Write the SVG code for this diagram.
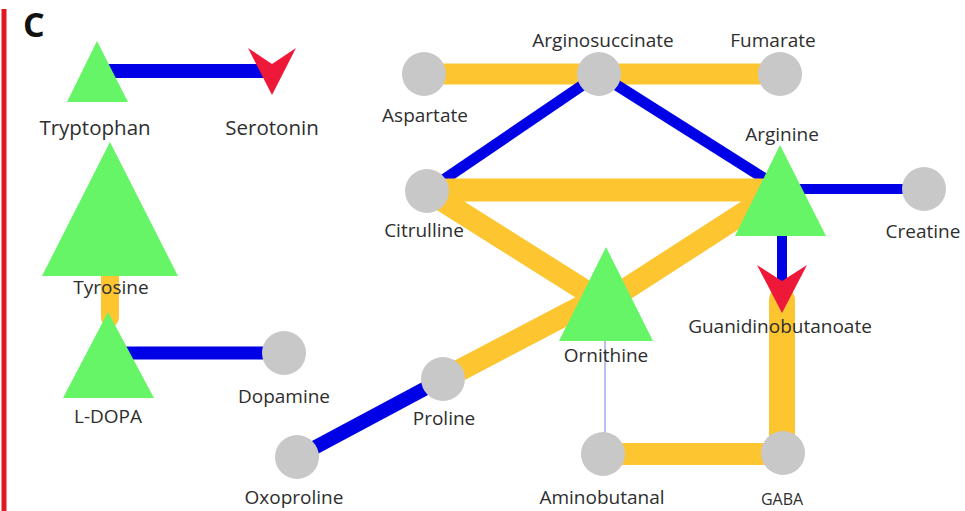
<svg xmlns="http://www.w3.org/2000/svg" width="965" height="511" viewBox="0 0 965 511">
<style>
.lbl{font-family:"Open Sans","Liberation Sans",sans-serif;font-size:19px;fill:#2e2e2e;text-anchor:middle}
.big{font-size:20.5px}
.sm{font-size:16px}
.tri{fill:#66f566}
.cir{fill:#c8c8c8}
.vee{fill:#ee1838}
.b{stroke:#0000e6;fill:none;stroke-linecap:butt}
.o{stroke:#fdc631;fill:none;stroke-linecap:round}
</style>
<rect width="965" height="511" fill="#ffffff"/>
<line x1="4" y1="9" x2="4" y2="511" stroke="#e01820" stroke-width="5"/>
<text x="23" y="37" font-family="'Open Sans','Liberation Sans',sans-serif" font-weight="bold" font-size="34" fill="#111">C</text>
<g id="connectors">
<line class="b" x1="97" y1="71" x2="272" y2="71" stroke-width="14"/>
<line class="o" x1="110" y1="270" x2="110" y2="318" stroke-width="18"/>
<line class="b" x1="108" y1="353" x2="284" y2="353" stroke-width="13"/>
<line class="o" x1="424" y1="74" x2="780" y2="74" stroke-width="21"/>
<line class="b" x1="427" y1="191" x2="599" y2="74" stroke-width="11"/>
<line class="b" x1="599" y1="74" x2="770" y2="182" stroke-width="11"/>
<line class="o" x1="427" y1="190" x2="770" y2="190" stroke-width="23"/>
<line class="o" x1="427" y1="191" x2="600" y2="300" stroke-width="22"/>
<line class="o" x1="770" y1="196" x2="612" y2="298" stroke-width="22"/>
<line class="o" x1="443" y1="379" x2="590" y2="302" stroke-width="22"/>
<line class="b" x1="297" y1="457" x2="443" y2="379" stroke-width="14"/>
<line class="b" x1="780" y1="189" x2="924" y2="189" stroke-width="10"/>
<line class="b" x1="782" y1="236" x2="782" y2="285" stroke-width="10"/>
<line class="o" x1="782" y1="300" x2="782" y2="453" stroke-width="26"/>
<line class="o" x1="603" y1="454" x2="783" y2="454" stroke-width="22"/>
<line x1="605" y1="341" x2="605" y2="440" stroke="#a8a8ec" stroke-width="1.5"/>
</g>
<g id="tryptophan"><polygon class="tri" points="97,41 67,102 128,102"/><text class="lbl big" x="95" y="135">Tryptophan</text></g>
<g id="serotonin"><polygon class="vee" points="248,48 272,64 296,48 272,95"/><text class="lbl big" x="272" y="135">Serotonin</text></g>
<g id="tyrosine"><polygon class="tri" points="110,142 42,276 178,276"/><text class="lbl" x="111" y="294">Tyrosine</text></g>
<g id="ldopa"><polygon class="tri" points="108,312 63,398 154,398"/><text class="lbl" x="108" y="423">L-DOPA</text></g>
<g id="dopamine"><circle class="cir" cx="284" cy="353" r="22"/><text class="lbl" x="284" y="403">Dopamine</text></g>
<g id="aspartate"><circle class="cir" cx="424" cy="74" r="22"/><text class="lbl" x="425" y="122">Aspartate</text></g>
<g id="arginosuccinate"><circle class="cir" cx="599" cy="74" r="22"/><text class="lbl" x="603" y="47">Arginosuccinate</text></g>
<g id="fumarate"><circle class="cir" cx="780" cy="74" r="22"/><text class="lbl" x="773" y="47">Fumarate</text></g>
<g id="citrulline"><circle class="cir" cx="427" cy="191" r="22"/><text class="lbl" x="424" y="237">Citrulline</text></g>
<g id="arginine"><polygon class="tri" points="780,145 735,236 826,236"/><text class="lbl" x="782" y="141">Arginine</text></g>
<g id="creatine"><circle class="cir" cx="924" cy="189" r="22"/><text class="lbl" x="923" y="238">Creatine</text></g>
<g id="ornithine"><polygon class="tri" points="606,247 559,341 653,341"/><text class="lbl" x="606" y="362">Ornithine</text></g>
<g id="guanidinobutanoate"><polygon class="vee" points="757,265 782,281 807,265 782,313"/><text class="lbl" x="780" y="333">Guanidinobutanoate</text></g>
<g id="proline"><circle class="cir" cx="443" cy="379" r="22"/><text class="lbl" x="444" y="425">Proline</text></g>
<g id="oxoproline"><circle class="cir" cx="297" cy="457" r="22"/><text class="lbl" x="294" y="504">Oxoproline</text></g>
<g id="aminobutanal"><circle class="cir" cx="603" cy="454" r="22"/><text class="lbl" x="602" y="504">Aminobutanal</text></g>
<g id="gaba"><circle class="cir" cx="783" cy="453" r="22"/><text class="lbl sm" x="782" y="505">GABA</text></g>
</svg>
